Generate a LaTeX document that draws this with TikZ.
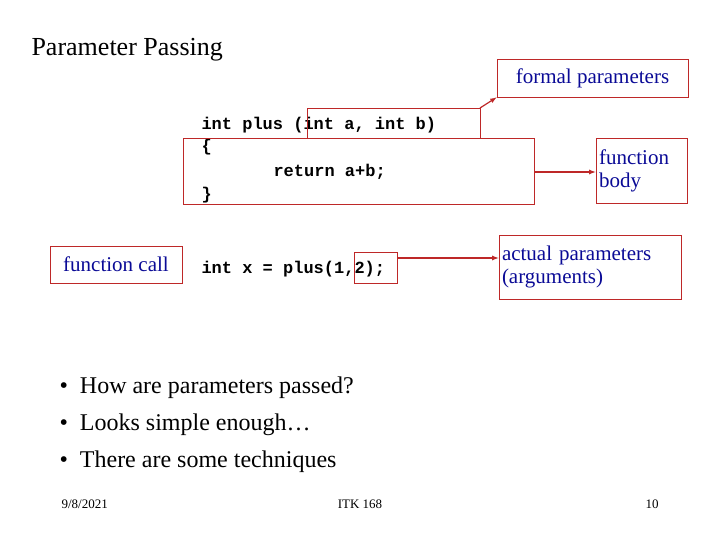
\documentclass[tikz,border=0pt]{standalone}
\usepackage{fontspec}
\setmainfont{Liberation Serif}
\setmonofont{Liberation Mono}
\usepackage{tikz}
\definecolor{boxred}{RGB}{190,40,40}
\definecolor{labblue}{RGB}{10,10,150}

\begin{document}
\begin{tikzpicture}[x=1pt,y=-1pt,
    code/.style={anchor=base west, font=\fontsize{17}{20}\selectfont\ttfamily\bfseries},
    lab/.style={draw=boxred, thick, text=labblue, align=left, inner sep=3pt, font=\fontsize{21}{26}\selectfont},
    codemark/.style={draw=boxred, thick},
    arr/.style={draw=boxred, very thick, -latex}]
    \useasboundingbox (0,0) rectangle (720,540);

    \node[anchor=base west, font=\fontsize{26}{30}\selectfont] (title) at (28,56) {Parameter Passing};

    % code lines
    \node[code] (head) at (198,130) {int plus (int a, int b)};
    \node[code] (open) at (198,152) {\{};
    \node[code] (ret) at (270,177) {return a+b;};
    \node[code] (close) at (198,200) {\}};
    \node[code] (call) at (198,273) {int x = plus(1,2);};

    % marked parts of the code
    \draw[codemark] (307,108) rectangle (480,138);
    \draw[codemark] (183,138) rectangle (534,204);
    \draw[codemark] (354,252) rectangle (397,283);
    \coordinate (formal) at (480,108);
    \coordinate (body) at (534,172);
    \coordinate (args) at (397,258);

    % labels
    \node[lab, minimum width=191, minimum height=38] (flab) at (592.5,78) {formal parameters};
    \node[lab, text width=85, minimum height=65] (blab) at (641.5,170.5) {function\\[-3pt]body};
    \node[lab, text width=176, minimum height=64] (alab) at (590,267) {actual parameters\\[-3pt](arguments)};
    \node[lab, minimum width=132, minimum height=37] (clab) at (116,264.5) {function call};

    \draw[arr] (formal) -- (flab.south west);
    \draw[arr] (body) -- (blab.west |- body);
    \draw[arr] (args) -- (alab.west |- args);

    % bullets
    \foreach \t [count=\i] in {How are parameters passed?, Looks simple enough\ldots, There are some techniques}
      \node[anchor=base west, font=\fontsize{24}{28}\selectfont] (b\i) at (56,{385+37*(\i-1)+8}) {\textbullet\ \ \t};

    % footer
    \node[anchor=base west, font=\fontsize{13}{15}\selectfont] (date) at (58,508) {9/8/2021};
    \node[anchor=base, font=\fontsize{13}{15}\selectfont] (course) at (360,508) {ITK 168};
    \node[anchor=base, font=\fontsize{13}{15}\selectfont] (page) at (652,508) {10};
\end{tikzpicture}
\end{document}
